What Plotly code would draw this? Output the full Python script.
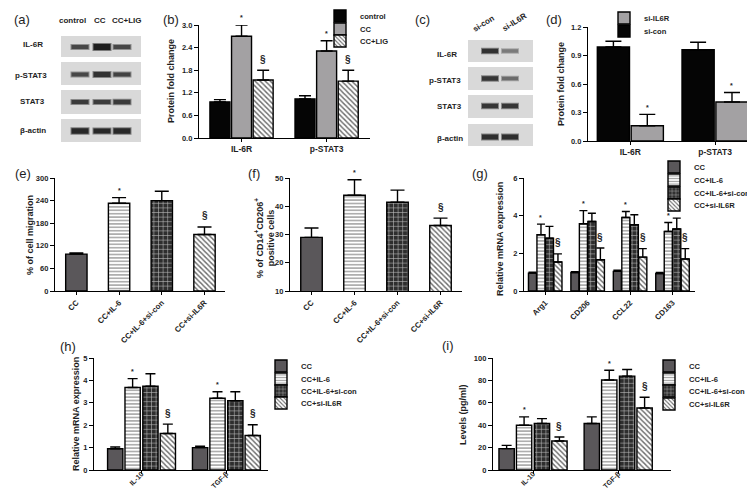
import plotly.graph_objects as go

W, H = 755, 491
FONT = "Liberation Sans, Arial, Helvetica, sans-serif"
TXT = "#1e1e1e"

# ---------------- data ----------------
# (a) western blot
a_rows = ["IL-6R", "p-STAT3", "STAT3", "β-actin"]
a_lanes = ["control", "CC", "CC+LIG"]
a_band_intensity = [[0.80, 1.00, 0.80], [0.80, 0.90, 0.82], [0.85, 0.85, 0.86], [0.95, 0.95, 0.95]]
a_band_thick = [[4, 6, 4], [4, 5, 4], [4, 4, 4.5], [5.5, 5, 5.5]]

# (b)
b_cats = ["IL-6R", "p-STAT3"]
b_names = ["control", "CC", "CC+LIG"]
b_control = [0.96, 1.04]
b_control_sem = [0.06, 0.08]
b_cc = [2.70, 2.31]
b_cc_sem = [0.30, 0.27]
b_lig = [1.54, 1.51]
b_lig_sem = [0.26, 0.29]

# (c) western blot
c_rows = ["IL-6R", "p-STAT3", "STAT3", "β-actin"]
c_lanes = ["si-con", "si-IL6R"]
c_band_intensity = [[0.90, 0.55], [0.88, 0.62], [0.88, 0.88], [0.92, 0.92]]
c_band_thick = [[4.5, 3.5], [4.5, 3.5], [4.5, 4.5], [5, 5]]

# (d)
d_cats = ["IL-6R", "p-STAT3"]
d_names = ["si-con", "si-IL6R"]
d_sicon = [0.99, 0.96]
d_sicon_sem = [0.06, 0.08]
d_siil6r = [0.16, 0.41]
d_siil6r_sem = [0.12, 0.10]

# shared group names (e)-(i)
grp_names = ["CC", "CC+IL-6", "CC+IL-6+si-con", "CC+si-IL6R"]

# (e)
e_vals = [98, 233, 240, 150]
e_sem = [3, 15, 25, 20]

# (f)
f_vals = [29.0, 43.9, 41.4, 33.2]
f_sem = [3.3, 5.5, 4.3, 2.6]

# (g)
g_cats = ["Arg1", "CD206", "CCL22", "CD163"]
g_cc = [0.95, 0.98, 1.04, 0.93]
g_cc_sem = [0.05, 0.04, 0.06, 0.06]
g_il6 = [2.99, 3.57, 3.90, 3.16]
g_il6_sem = [0.56, 0.70, 0.32, 0.48]
g_sicon = [2.80, 3.69, 3.52, 3.29]
g_sicon_sem = [0.63, 0.44, 0.53, 0.58]
g_si = [1.54, 1.66, 1.80, 1.70]
g_si_sem = [0.43, 0.62, 0.45, 0.55]

# (h)
h_cats = ["IL-10", "TGF-β"]
h_cc = [0.95, 1.00]
h_cc_sem = [0.08, 0.06]
h_il6 = [3.68, 3.20]
h_il6_sem = [0.40, 0.29]
h_sicon = [3.74, 3.09]
h_sicon_sem = [0.56, 0.40]
h_si = [1.63, 1.54]
h_si_sem = [0.42, 0.48]

# (i)
i_cats = ["IL-10", "TGF-β"]
i_cc = [19.1, 41.5]
i_cc_sem = [2.9, 5.9]
i_il6 = [40.0, 80.3]
i_il6_sem = [7.4, 8.8]
i_sicon = [41.5, 83.8]
i_sicon_sem = [4.4, 5.9]
i_si = [25.9, 55.3]
i_si_sem = [3.5, 9.7]


# ---------------- helpers ----------------
def px(x):
    return x / W


def py(y):
    return 1 - y / H


fig = go.Figure()
annotations = []
shapes = []
legend_layout = {}


def new_legend(xl, yc):
    idx = len(legend_layout) + 1
    lid = "legend" if idx == 1 else f"legend{idx}"
    legend_layout[lid] = dict(
        x=px(xl), y=py(yc), xanchor="left", yanchor="middle",
        xref="paper", yref="paper",
        bgcolor="rgba(0,0,0,0)", borderwidth=0, itemwidth=30,
        font=dict(family=FONT, size=7.6, color=TXT, weight="bold"),
    )
    return lid


def text(x, y, s, size=8, bold=True, angle=0, xanchor="center", color=TXT):
    annotations.append(dict(
        xref="paper", yref="paper", x=px(x), y=py(y), text=s, showarrow=False,
        xanchor=xanchor, yanchor="middle", textangle=angle,
        font=dict(family=FONT, size=size, color=color, weight="bold" if bold else "normal"),
    ))


def ax_ids(n):
    return ("x" if n == 1 else f"x{n}"), ("y" if n == 1 else f"y{n}")


ST_BLACK = dict(color="#050505")
ST_GRAYB = dict(color="#a3a1a3")
ST_HATCH = dict(color="white", pattern=dict(shape="\\", bgcolor="white", fgcolor="#6e6e6e",
                                            size=3.6, solidity=0.38, fillmode="replace"))
ST_CC = dict(color="#5a575a")
ST_HLINE = dict(color="white", pattern=dict(shape="-", bgcolor="white", fgcolor="#9a9a9a",
                                            size=3.4, solidity=0.4, fillmode="replace"))
ST_BRICK = dict(color="#2e2e2e", pattern=dict(shape="+", bgcolor="#2e2e2e", fgcolor="#bdbdbd",
                                              size=4.6, solidity=0.22, fillmode="replace"))
GRP_STYLES = [ST_CC, ST_HLINE, ST_BRICK, ST_HATCH]


def add_mark(xa, ya, x, top, sym):
    star = sym == "*"
    annotations.append(dict(
        xref=xa, yref=ya, x=x, y=top, text=sym, showarrow=False,
        yanchor="middle", yshift=7 if star else 11,
        font=dict(family=FONT, size=7 if star else 10, color=TXT, weight="bold"),
    ))


def grouped(n, cats, names, vals, sems, styles, centers, width, legends, capw, marks):
    xa, ya = ax_ids(n)
    for k in range(len(names)):
        kw = {}
        if legends:
            kw["legend"] = legends[k]
        fig.add_trace(go.Bar(
            x=cats, y=vals[k], name=names[k], width=width, offset=centers[k] - width / 2,
            marker=dict(line=dict(color="black", width=1.4), **styles[k]),
            error_y=dict(type="data", symmetric=False, array=sems[k],
                         arrayminus=[0] * len(cats), color="black", thickness=1.4, width=capw),
            xaxis=xa, yaxis=ya, showlegend=bool(legends), **kw,
        ))
    for k, sym in marks:
        for i in range(len(cats)):
            add_mark(xa, ya, i + centers[k], vals[k][i] + sems[k][i], sym)


def single(n, cats, vals, sems, width, capw, marks):
    xa, ya = ax_ids(n)
    for k in range(len(cats)):
        fig.add_trace(go.Bar(
            x=[cats[k]], y=[vals[k]], name=cats[k], width=width, offset=-width / 2,
            showlegend=False,
            marker=dict(line=dict(color="black", width=1.4), **GRP_STYLES[k]),
            error_y=dict(type="data", symmetric=False, array=[sems[k]], arrayminus=[0],
                         color="black", thickness=1.4, width=capw),
            xaxis=xa, yaxis=ya,
        ))
    for i, sym in marks:
        add_mark(xa, ya, i, vals[i] + sems[i], sym)


def set_axes(n, cats, xdom, ydom, xrange, yrange, dtick, fmt, angle, xfont=8, standoff=0):
    xa, ya = ax_ids(n)
    xname = "xaxis" if n == 1 else f"xaxis{n}"
    yname = "yaxis" if n == 1 else f"yaxis{n}"
    common = dict(showline=True, linecolor="black", linewidth=1.3, ticks="outside",
                  tickwidth=1.3, tickcolor="black", showgrid=False, zeroline=False,
                  fixedrange=True)
    fig.update_layout(**{
        xname: dict(domain=[px(xdom[0]), px(xdom[1])], range=xrange, anchor=ya,
                    type="category", categoryorder="array", categoryarray=cats,
                    ticklen=3, tickangle=angle, ticklabelstandoff=standoff,
                    tickfont=dict(family=FONT, size=xfont, color=TXT, weight="bold"), **common),
        yname: dict(domain=[py(ydom[1]), py(ydom[0])], range=yrange, anchor=xa,
                    tick0=yrange[0], dtick=dtick, tickformat=fmt, ticklen=4,
                    tickfont=dict(family=FONT, size=7.5, color=TXT, weight="bold"), **common),
    })


def blot(box_x, rows_y, lanes_x, band_y, inten, thick, band_w):
    for (y0, y1) in rows_y:
        shapes.append(dict(type="rect", xref="paper", yref="paper", x0=px(box_x[0]), x1=px(box_x[1]),
                           y0=py(y1), y1=py(y0), fillcolor="#d9d9d9", line=dict(width=0), layer="below"))
    for r, yc in enumerate(band_y):
        for l, xc in enumerate(lanes_x):
            g = int(235 - inten[r][l] * 205)
            g2 = int((g + 215) / 2)
            t = thick[r][l]
            shapes.append(dict(type="rect", xref="paper", yref="paper",
                               x0=px(xc - band_w / 2 - 1), x1=px(xc + band_w / 2 + 1),
                               y0=py(yc + t / 2 + 1), y1=py(yc - t / 2 - 1),
                               fillcolor=f"rgb({g2},{g2},{g2})", line=dict(width=0)))
            shapes.append(dict(type="rect", xref="paper", yref="paper",
                               x0=px(xc - band_w / 2), x1=px(xc + band_w / 2),
                               y0=py(yc + t / 2), y1=py(yc - t / 2),
                               fillcolor=f"rgb({g},{g},{g})", line=dict(width=0)))


# ---------------- (a) ----------------
blot((53, 133), [(28, 49), (54, 77), (82, 106), (111, 134)], [72, 94, 114],
     [39, 66.5, 94, 123], a_band_intensity, a_band_thick, 17)
for lane, x in zip(a_lanes, [64, 92, 119]):
    text(x, 13, lane, size=8)
for row, (x, y) in zip(a_rows, [(25, 36), (23, 67), (24, 93), (25, 123)]):
    text(x, y, row, size=8)

# ---------------- (b) ----------------
b_centers = [-0.254, 0.0, 0.254]
b_leg = [new_legend(312, 8), new_legend(312, 21), new_legend(312, 33)]
grouped(1, b_cats, b_names, [b_control, b_cc, b_lig], [b_control_sem, b_cc_sem, b_lig_sem],
        [ST_BLACK, ST_GRAYB, ST_HATCH], b_centers, 0.235, b_leg, 6, [(1, "*"), (2, "§")])
set_axes(1, b_cats, (191, 362), (17, 130), [-0.5, 1.51], [0, 3.0], 0.6, ".1f", 0, xfont=8.5)
text(163, 73, "Protein fold change", size=9, angle=-90)

# ---------------- (c) ----------------
blot((460, 525), [(32, 54), (59, 82), (87, 110), (116, 138)], [482, 502],
     [43, 70.5, 98, 129], c_band_intensity, c_band_thick, 16)
text(476, 16, c_lanes[0], size=8, angle=-32)
text(506, 14, c_lanes[1], size=8, angle=-32)
for row, (x, y) in zip(c_rows, [(439, 46), (437, 72), (441, 98), (442, 130)]):
    text(x, y, row, size=8)

# ---------------- (d) ----------------
d_leg_ids = {"si-IL6R": new_legend(596, 10), "si-con": new_legend(596, 23)}
grouped(2, d_cats, d_names, [d_sicon, d_siil6r], [d_sicon_sem, d_siil6r_sem],
        [ST_BLACK, ST_GRAYB], [-0.2, 0.2], 0.38, [d_leg_ids[nm] for nm in d_names], 8, [(1, "*")])
set_axes(2, d_cats, (580, 746), (19, 133), [-0.5, 1.46], [0, 1.2], 0.3, ".1f", 0, xfont=8.5)
text(553, 76, "Protein fold change", size=9, angle=-90)

# ---------------- (e) ----------------
single(3, grp_names, e_vals, e_sem, 0.5, 7, [(1, "*"), (3, "§")])
set_axes(3, grp_names, (47, 217), (170, 283), [-0.5, 3.48], [0, 300], 60, "d", -45, xfont=7.8)
text(22, 227, "% of cell migration", size=9, angle=-90)

# ---------------- (f) ----------------
single(4, grp_names, f_vals, f_sem, 0.5, 7, [(1, "*"), (3, "§")])
set_axes(4, grp_names, (282, 454), (170, 283), [-0.5, 3.5], [10, 50], 10, "d", -45, xfont=7.8)
text(256, 230, "% of CD14<sup>+</sup>CD206<sup>+</sup><br>positive cells", size=9, angle=-90)

# ---------------- (g) ----------------
g_centers = [-0.3, -0.1, 0.1, 0.3]
g_leg = [new_legend(646, y) for y in (159, 172, 185, 197)]
grouped(5, g_cats, grp_names, [g_cc, g_il6, g_sicon, g_si],
        [g_cc_sem, g_il6_sem, g_sicon_sem, g_si_sem], GRP_STYLES, g_centers, 0.19, g_leg, 4,
        [(1, "*"), (3, "§")])
set_axes(5, g_cats, (516, 687), (170, 283), [-0.5, 3.53], [0, 6], 2, "d", -45, xfont=7.8)
text(492, 231, "Relative mRNA expression", size=9, angle=-90)

# ---------------- (h) ----------------
hi_centers = [-0.31, -0.105, 0.105, 0.31]
h_leg = [new_legend(253, y) for y in (358, 371, 383, 395)]
grouped(6, h_cats, grp_names, [h_cc, h_il6, h_sicon, h_si],
        [h_cc_sem, h_il6_sem, h_sicon_sem, h_si_sem], GRP_STYLES, hi_centers, 0.18, h_leg, 5,
        [(1, "*"), (3, "§")])
set_axes(6, h_cats, (86, 260), (350, 462), [-0.56, 1.49], [0, 5], 1, "d", -45,
         xfont=7, standoff=-7)
text(68, 406, "Relative mRNA expression", size=9, angle=-90)

# ---------------- (i) ----------------
i_leg = [new_legend(641, y) for y in (358, 371, 383, 396)]
grouped(7, i_cats, grp_names, [i_cc, i_il6, i_sicon, i_si],
        [i_cc_sem, i_il6_sem, i_sicon_sem, i_si_sem], GRP_STYLES, hi_centers, 0.18, i_leg, 5,
        [(1, "*"), (3, "§")])
set_axes(7, i_cats, (485, 663), (350, 462), [-0.47, 1.62], [0, 100], 20, "d", -45,
         xfont=7, standoff=-7)
text(455, 407, "Levels (pg/ml)", size=9, angle=-90)

# ---------------- panel letters ----------------
for lab, (x, y) in zip(["(a)", "(b)", "(c)", "(d)", "(e)", "(f)", "(g)", "(h)", "(i)"],
                       [(14, 12), (163, 11), (414, 11), (546, 12), (15, 165), (246, 165),
                        (472, 165), (60, 338), (440, 337)]):
    text(x, y, lab, size=13, bold=False)

fig.update_layout(
    width=W, height=H,
    margin=dict(l=0, r=0, t=0, b=0, autoexpand=False),
    paper_bgcolor="white", plot_bgcolor="rgba(0,0,0,0)",
    barmode="overlay", showlegend=True, hovermode=False,
    annotations=annotations, shapes=shapes,
    **legend_layout,
)

fig.write_html("out.html")
